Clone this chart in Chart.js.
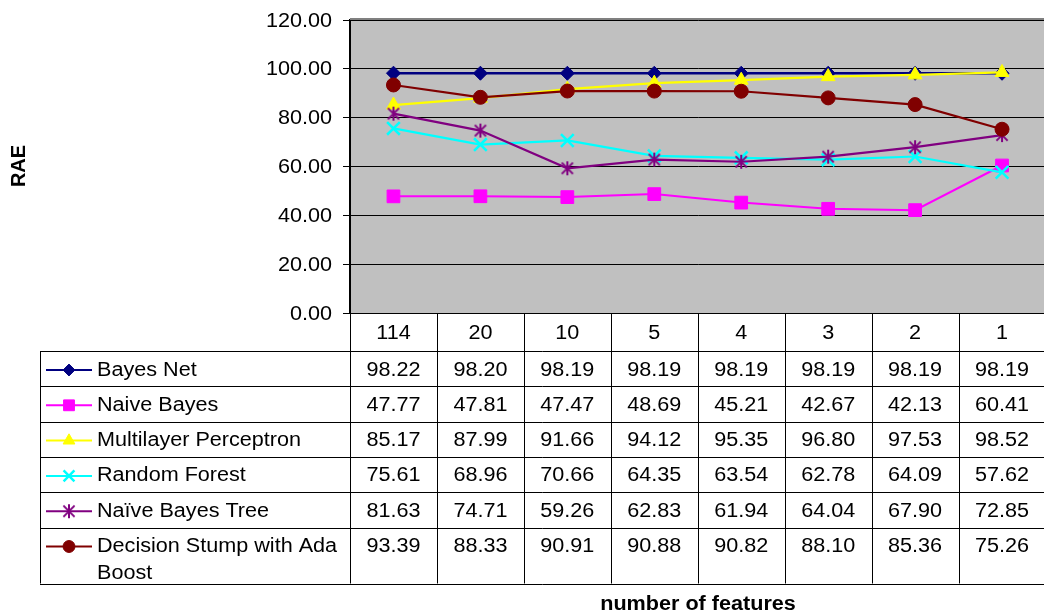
<!DOCTYPE html>
<html>
<head>
<meta charset="utf-8">
<script src="https://cdn.jsdelivr.net/npm/chart.js@4/dist/chart.umd.min.js"></script>
<style>
  html, body { margin: 0; padding: 0; background: #fff; overflow: hidden; }
  #wrap { width: 1044px; height: 616px; overflow: hidden; position: relative; }
  canvas { display: block; }
</style>
</head>
<body>
<div id="wrap"><canvas id="c" width="1057" height="616"></canvas></div>
<script>
// Number of selected features (x categories)
const featureCounts = ['114', '20', '10', '5', '4', '3', '2', '1'];

// RAE per classifier
const bayesNet        = [98.22, 98.20, 98.19, 98.19, 98.19, 98.19, 98.19, 98.19];
const naiveBayes      = [47.77, 47.81, 47.47, 48.69, 45.21, 42.67, 42.13, 60.41];
const multilayerPerc  = [85.17, 87.99, 91.66, 94.12, 95.35, 96.80, 97.53, 98.52];
const randomForest    = [75.61, 68.96, 70.66, 64.35, 63.54, 62.78, 64.09, 57.62];
const naiveBayesTree  = [81.63, 74.71, 59.26, 62.83, 61.94, 64.04, 67.90, 72.85];
const decisionStumpAB = [93.39, 88.33, 90.91, 90.88, 90.82, 88.10, 85.36, 75.26];

const seriesNames = ['Bayes Net', 'Naive Bayes', 'Multilayer Perceptron', 'Random Forest', 'Naïve Bayes Tree', 'Decision Stump with Ada Boost'];
const seriesValues = [bayesNet, naiveBayes, multilayerPerc, randomForest, naiveBayesTree, decisionStumpAB];

// Y axis range
const yMin = 0, yMax = 120, yStep = 20;

const FONT = '"Liberation Sans", Arial, sans-serif';
const TEXT_STRETCH = 1.08;

// Six-armed asterisk marker (an X with a vertical stroke)
function asteriskMarker(color, r) {
  const s = Math.ceil(r * 2 + 4);
  const cv = document.createElement('canvas');
  cv.width = s; cv.height = s;
  const g = cv.getContext('2d');
  const c = s / 2;
  g.strokeStyle = color; g.lineWidth = 2; g.lineCap = 'butt';
  g.beginPath();
  g.moveTo(c - r * 0.8, c - r * 0.8); g.lineTo(c + r * 0.8, c + r * 0.8);
  g.moveTo(c + r * 0.8, c - r * 0.8); g.lineTo(c - r * 0.8, c + r * 0.8);
  g.moveTo(c, c - r); g.lineTo(c, c + r);
  g.stroke();
  return cv;
}

const seriesStyles = [
  { color: '#000080', point: 'rectRot',  radius: 7, lineWidth: 2.5 },
  { color: '#ff00ff', point: 'rect',     radius: 9, lineWidth: 2 },
  { color: '#ffff00', point: 'triangle', radius: 8, lineWidth: 2.2 },
  { color: '#00ffff', point: 'crossRot', radius: 9, lineWidth: 2.2 },
  { color: '#800080', point: asteriskMarker('#800080', 7), radius: 7, lineWidth: 2.2 },
  { color: '#800000', point: 'circle',   radius: 7, lineWidth: 2.2 }
];

const datasets = seriesValues.map((vals, i) => {
  const st = seriesStyles[i];
  return {
    label: seriesNames[i],
    data: vals,
    borderColor: st.color,
    backgroundColor: st.color,
    borderWidth: st.lineWidth,
    pointStyle: st.point,
    pointRadius: st.radius,
    pointHoverRadius: st.radius,
    pointBorderWidth: (st.point === 'crossRot') ? 2.5 : 1,
    pointBorderColor: st.color,
    pointBackgroundColor: st.color,
    tension: 0,
    order: seriesValues.length - i
  };
});

// Text drawn slightly wider than the face's natural width
function stretchedText(ctx, str, x, y, align) {
  const w = ctx.measureText(str).width * TEXT_STRETCH;
  let left = x;
  if (align === 'center') left = x - w / 2;
  else if (align === 'right') left = x - w;
  ctx.save();
  ctx.textAlign = 'left';
  ctx.translate(left, y);
  ctx.scale(TEXT_STRETCH, 1);
  ctx.fillText(str, 0, 0);
  ctx.restore();
}

// Grey plot area
const plotBackground = {
  id: 'plotBackground',
  beforeDraw(chart) {
    const { ctx, chartArea: a } = chart;
    ctx.save();
    ctx.fillStyle = '#c0c0c0';
    ctx.fillRect(a.left, a.top, a.right - a.left, a.bottom - a.top);
    ctx.restore();
  },
  afterDraw(chart) {
    const { ctx, chartArea: a } = chart;
    ctx.save();
    ctx.strokeStyle = '#808080';
    ctx.lineWidth = 2;
    ctx.beginPath();
    ctx.moveTo(a.left, a.top - 1); ctx.lineTo(a.right, a.top - 1);
    ctx.stroke();
    ctx.restore();
  }
};

// Y tick labels, data table with legend keys, axis titles
const dataTable = {
  id: 'dataTable',
  afterDraw(chart) {
    const { ctx, chartArea: a, scales } = chart;
    const x = scales.x, y = scales.y;
    const n = featureCounts.length;
    const colW = (a.right - a.left) / n;
    const tableLeft = 40;
    const headTop = a.bottom;
    const headBottom = 351;
    const rowH = 35.3;
    const lastRowH = 56;
    const rowTops = [];
    let yy = headBottom;
    for (let i = 0; i < seriesNames.length; i++) {
      rowTops.push(yy);
      yy += (i === seriesNames.length - 1) ? lastRowH : rowH;
    }
    const tableBottom = yy;

    ctx.save();
    ctx.fillStyle = '#000';
    ctx.font = '20px ' + FONT;
    ctx.textBaseline = 'middle';

    // y tick labels
    y.ticks.forEach(t => {
      stretchedText(ctx, t.value.toFixed(2), a.left - 18, y.getPixelForValue(t.value) + 1, 'right');
    });

    ctx.strokeStyle = '#000';
    ctx.lineWidth = 1;
    ctx.beginPath();
    ctx.moveTo(a.left, headTop + 0.5); ctx.lineTo(a.right, headTop + 0.5);
    rowTops.forEach(t => {
      const yl = Math.round(t) + 0.5;
      ctx.moveTo(tableLeft, yl); ctx.lineTo(a.right, yl);
    });
    ctx.moveTo(tableLeft, Math.round(tableBottom) + 0.5); ctx.lineTo(a.right, Math.round(tableBottom) + 0.5);
    ctx.moveTo(tableLeft + 0.5, headBottom); ctx.lineTo(tableLeft + 0.5, tableBottom);
    for (let i = 0; i <= n; i++) {
      const xl = Math.round(a.left + i * colW) + 0.5;
      ctx.moveTo(xl, headTop); ctx.lineTo(xl, tableBottom);
    }
    ctx.stroke();

    featureCounts.forEach((lab, i) => {
      stretchedText(ctx, lab, x.getPixelForValue(i), (headTop + headBottom) / 2 + 1, 'center');
    });

    seriesNames.forEach((name, r) => {
      const ty = rowTops[r] + 19;
      const st = seriesStyles[r];
      ctx.strokeStyle = st.color;
      ctx.lineWidth = 2;
      ctx.beginPath();
      ctx.moveTo(46, ty); ctx.lineTo(92, ty);
      ctx.stroke();
      ctx.fillStyle = st.color;
      ctx.strokeStyle = st.color;
      ctx.lineWidth = (st.point === 'crossRot') ? 2.5 : 1;
      Chart.helpers.drawPoint(ctx, { pointStyle: st.point, radius: st.radius * 0.85, borderWidth: ctx.lineWidth, rotation: 0 }, 69, ty);

      ctx.fillStyle = '#000';
      const maxW = (a.left - 97 - 4) / TEXT_STRETCH;
      const words = name.split(' ');
      const lines = [];
      let cur = '';
      words.forEach(w => {
        const t = cur ? cur + ' ' + w : w;
        if (ctx.measureText(t).width > maxW && cur) { lines.push(cur); cur = w; } else { cur = t; }
      });
      lines.push(cur);
      lines.forEach((ln, k) => stretchedText(ctx, ln, 97, ty + k * 27, 'left'));

      seriesValues[r].forEach((v, i) => {
        stretchedText(ctx, v.toFixed(2), x.getPixelForValue(i), ty, 'center');
      });
    });

    ctx.font = 'bold 20px ' + FONT;
    stretchedText(ctx, 'number of features', 698, 604, 'center');
    ctx.translate(19, 166);
    ctx.rotate(-Math.PI / 2);
    ctx.textAlign = 'center';
    ctx.fillText('RAE', 0, 0);
    ctx.restore();
  }
};

new Chart(document.getElementById('c'), {
  type: 'line',
  data: { labels: featureCounts, datasets },
  plugins: [plotBackground, dataTable],
  options: {
    responsive: false,
    animation: false,
    devicePixelRatio: 1,
    layout: { padding: { left: 0, right: 3, top: 20, bottom: 616 - 313 } },
    plugins: { legend: { display: false }, tooltip: { enabled: false } },
    scales: {
      x: {
        type: 'category',
        offset: true,
        display: false
      },
      y: {
        min: yMin,
        max: yMax,
        afterFit(scale) { scale.width = 350; },
        ticks: {
          stepSize: yStep,
          display: false
        },
        grid: { color: '#000', lineWidth: 1, tickLength: 7, drawTicks: true },
        border: { display: true, color: '#000', width: 2 }
      }
    }
  }
});
</script>
</body>
</html>
